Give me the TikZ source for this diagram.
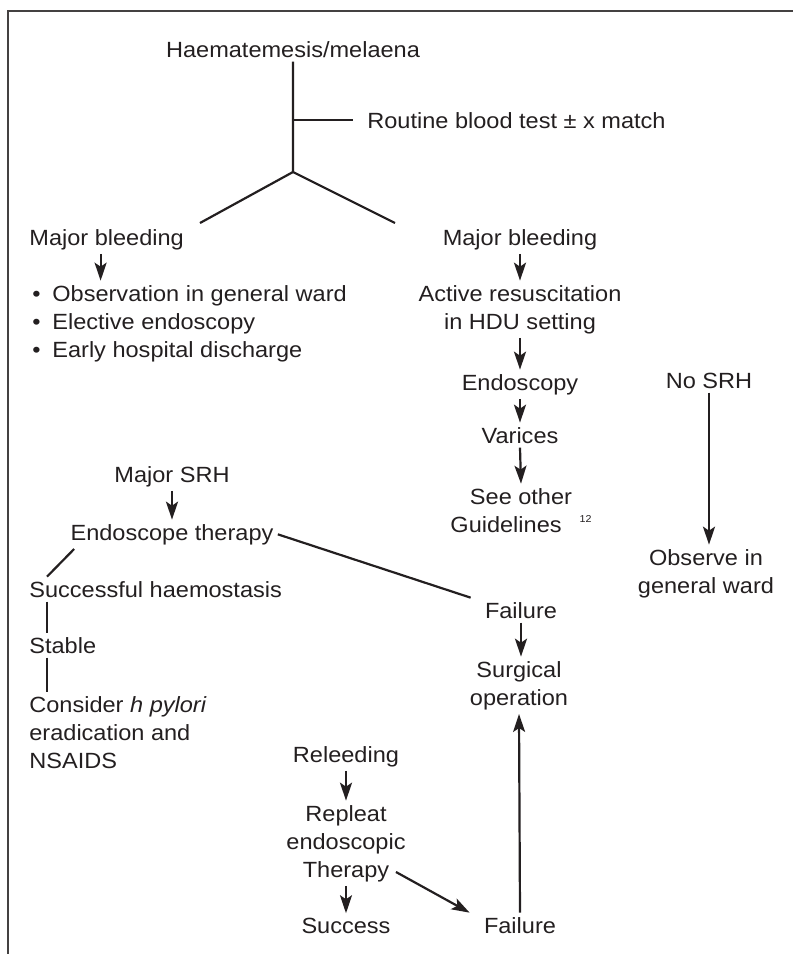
\documentclass[tikz,border=0pt]{standalone}
\usepackage{fontspec}
\setmainfont[FakeStretch=1.07]{Liberation Sans}
\usepackage{tikz}
\usetikzlibrary{arrows.meta}
\definecolor{ink}{HTML}{231F20}
\newcommand{\bitem}{\makebox[10pt][l]{\textbullet}}

\begin{document}
\begin{tikzpicture}[
    x=0.5pt, y=-0.5pt,
    txt/.style={inner sep=2pt, text=ink, font=\fontsize{11}{14}\selectfont},
    lin/.style={draw=ink, line width=1.1pt},
    arr/.style={lin, -{Stealth[length=9pt, width=6pt, inset=2pt]}},
    ]
    \useasboundingbox (0,0) rectangle (793,954);
    \draw[draw=ink!85, line width=0.6pt] (793,11) -- (8,11) -- (8,954);
    \node[txt, anchor=base] (hae) at (293,57) {Haematemesis/melaena};
    \node[txt, anchor=base west] (rbt) at (363,128) {Routine blood test ± x match};
    \node[txt, anchor=base west] (mbl) at (25,245) {Major bleeding};
    \node[txt, anchor=base] (mbr) at (520,245) {Major bleeding};
    \node[txt, anchor=base west, align=left] (obs) at (28,357) {\bitem Observation in general ward\\\bitem Elective endoscopy\\\bitem Early hospital discharge};
    \node[txt, anchor=base, align=center] (act) at (520,329) {Active resuscitation\\in HDU setting};
    \node[txt, anchor=base] (endo) at (520,390) {Endoscopy};
    \node[txt, anchor=base] (var) at (520,443) {Varices};
    \node[txt, anchor=base, align=center] (see) at (521,532) {See other\\Guidelines\hspace{9pt}\raisebox{5pt}{\fontsize{5}{6}\selectfont 12}};
    \node[txt, anchor=base] (nosrh) at (709,388) {No SRH};
    \node[txt, anchor=base, align=center] (obw) at (706,593) {Observe in\\general ward};
    \node[txt, anchor=base] (msrh) at (172,482) {Major SRH};
    \node[txt, anchor=base] (et) at (172,540) {Endoscope therapy};
    \node[txt, anchor=base west] (sh) at (25,597) {Successful haemostasis};
    \node[txt, anchor=base west] (stab) at (25,653) {Stable};
    \node[txt, anchor=base west, align=left] (cons) at (25,768) {Consider \textit{h pylori}\\eradication and\\NSAIDS};
    \node[txt, anchor=base] (fl1) at (521,618) {Failure};
    \node[txt, anchor=base, align=center] (surg) at (519,705) {Surgical\\operation};
    \node[txt, anchor=base] (rel) at (346,762) {Releeding};
    \node[txt, anchor=base, align=center] (rep) at (346,877) {Repleat\\endoscopic\\Therapy};
    \node[txt, anchor=base] (succ) at (346,933) {Success};
    \node[txt, anchor=base] (fl2) at (520,933) {Failure};
    \coordinate (fork) at (293,172);
    \coordinate (bl) at (200,223);
    \coordinate (br) at (395,223);
    \draw[lin] (hae.south) -- (fork) -- (bl);
    \draw[lin] (fork) -- (br);
    \draw[lin] (hae.south |- rbt.west) -- ([xshift=-5pt]rbt.west);
    \draw[arr] ([xshift=-3pt]mbl.south) -- ([xshift=-3pt]mbl.south |- obs.north);
    \draw[arr] (mbr.south) -- (act.north);
    \draw[arr] (act.south) -- (endo.north);
    \draw[arr] (endo.south) -- (var.north);
    \draw[arr] (var.south) -- (see.north);
    \draw[arr] (nosrh.south) -- (nosrh.south |- obw.north);
    \draw[arr] (msrh.south) -- (et.north);
    \draw[lin] ([xshift=4pt]et.south west) -- ([xshift=11pt]sh.north west);
    \draw[lin] ([xshift=11pt]sh.south west) -- ([xshift=11pt]stab.north west);
    \draw[lin] ([xshift=11pt]stab.south west) -- ([xshift=11pt]cons.north west);
    \draw[lin] (et.east) -- ([xshift=-5pt]fl1.north west);
    \draw[arr] (fl1.south) -- (fl1.south |- surg.north);
    \draw[arr] (fl2.north) -- (surg.south);
    \draw[arr] (rel.south) -- (rep.north);
    \draw[arr] (rep.south) -- (succ.north);
    \draw[arr] ([xshift=-7pt,yshift=7pt]rep.south east) -- ([xshift=-5pt]fl2.north west);
\end{tikzpicture}
\end{document}
